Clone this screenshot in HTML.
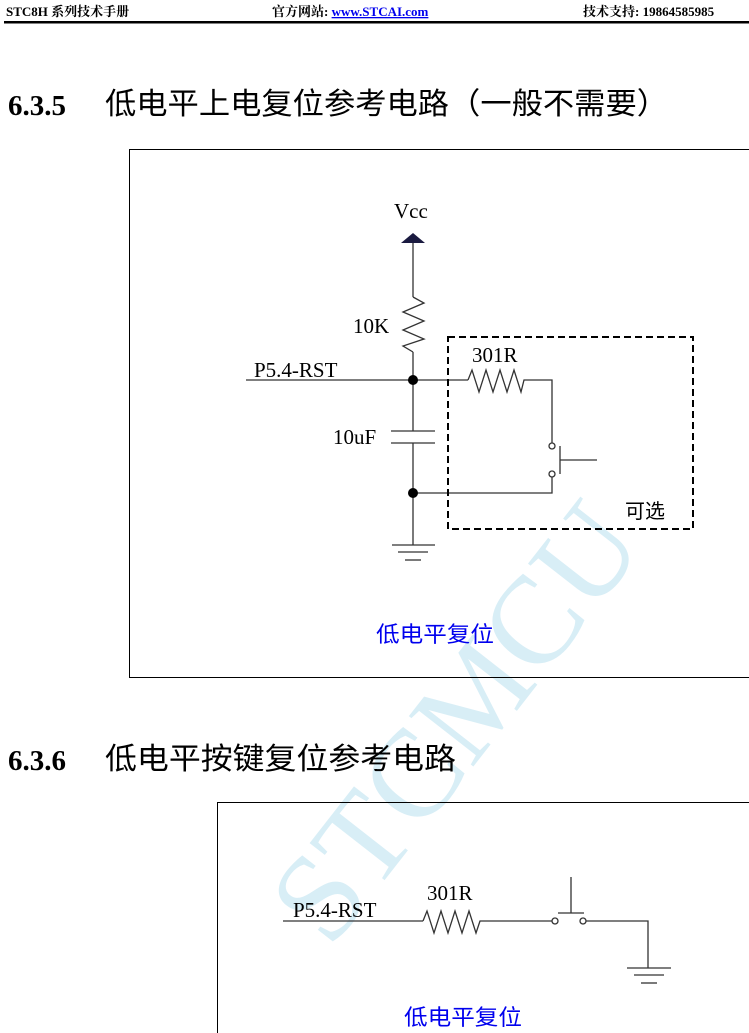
<!DOCTYPE html>
<html><head><meta charset="utf-8"><style>
html,body{margin:0;padding:0;background:#fff;}
svg{display:block;}
.s{font-family:"Liberation Serif","Noto Serif CJK SC",serif;}
.h{font-family:"Liberation Sans","Noto Sans CJK SC",sans-serif;}
</style></head><body>
<svg width="749" height="1033" viewBox="0 0 749 1033" xmlns="http://www.w3.org/2000/svg">
<text x="6" y="16" class="s" font-size="13" font-weight="bold">STC8H 系列技术手册</text>
<text x="272" y="16" class="s" font-size="13" font-weight="bold">官方网站: <tspan fill="#0000ee" text-decoration="underline">www.STCAI.com</tspan></text>
<text x="583" y="16" class="s" font-size="13" font-weight="bold">技术支持: 19864585985</text>
<rect x="4" y="21" width="745" height="2.5" fill="#000"/>
<text transform="translate(330,950) rotate(-52)" class="s" font-size="125" fill="#cfeaf4" opacity="0.8">STCMCU</text>
<text x="8" y="115" class="s" font-size="29" font-weight="bold">6.3.5</text>
<text x="105" y="114" class="h" font-size="30" textLength="563" lengthAdjust="spacingAndGlyphs">低电平上电复位参考电路（一般不需要）</text>
<rect x="129.5" y="149.5" width="625" height="528" fill="none" stroke="#000" stroke-width="1"/>
<g stroke="#333" stroke-width="1.3" fill="none">
<line x1="413" y1="243" x2="413" y2="297"/>
<polyline points="413,297 424,303 403,312 424,321 403,330 424,339 403,346 413,352"/>
<line x1="413" y1="352" x2="413" y2="431"/>
<line x1="391" y1="431" x2="435" y2="431"/>
<line x1="391" y1="443" x2="435" y2="443"/>
<line x1="413" y1="443" x2="413" y2="545"/>
<line x1="392" y1="545" x2="435" y2="545"/>
<line x1="398" y1="552" x2="428" y2="552"/>
<line x1="405" y1="560" x2="421" y2="560"/>
<line x1="246" y1="380" x2="468" y2="380"/>
<polyline points="468,380 472,370 479,392 486,370 493,392 500,370 507,392 514,370 521,392 524,380 552,380 552,443"/>
<circle cx="552" cy="446" r="3" fill="#fff"/>
<circle cx="552" cy="474" r="3" fill="#fff"/>
<polyline points="552,477 552,493 413,493"/>
<line x1="560" y1="446" x2="560" y2="474"/>
<line x1="560" y1="460" x2="597" y2="460"/>
</g>
<polygon points="413,233 401,243 425,243" fill="#1a1a40"/>
<circle cx="413" cy="380" r="5" fill="#000"/>
<circle cx="413" cy="493" r="5" fill="#000"/>
<rect x="448" y="337" width="245" height="192" fill="none" stroke="#000" stroke-width="2" stroke-dasharray="7,4"/>
<g class="s" font-size="21">
<text x="394" y="218">Vcc</text>
<text x="353" y="333">10K</text>
<text x="333" y="444">10uF</text>
<text x="472" y="362">301R</text>
<text x="254" y="377">P5.4-RST</text>
</g>
<text x="625" y="518" class="h" font-size="20">可选</text>
<text x="376" y="642" class="h" font-size="22" fill="#0000ee" textLength="118" lengthAdjust="spacingAndGlyphs">低电平复位</text>
<text x="8" y="770" class="s" font-size="29" font-weight="bold">6.3.6</text>
<text x="105" y="769" class="h" font-size="30" textLength="351" lengthAdjust="spacingAndGlyphs">低电平按键复位参考电路</text>
<rect x="217.5" y="802.5" width="540" height="240" fill="none" stroke="#000" stroke-width="1"/>
<g stroke="#333" stroke-width="1.3" fill="none">
<line x1="283" y1="921" x2="423" y2="921"/>
<polyline points="423,921 427,911 434,933 441,911 448,933 455,911 462,933 469,911 476,933 480,921 552,921"/>
<circle cx="555" cy="921" r="3" fill="#fff"/>
<circle cx="583" cy="921" r="3" fill="#fff"/>
<polyline points="586,921 648,921 648,968"/>
<line x1="558" y1="913" x2="584" y2="913"/>
<line x1="571" y1="877" x2="571" y2="913"/>
<line x1="627" y1="968" x2="671" y2="968"/>
<line x1="634" y1="975" x2="664" y2="975"/>
<line x1="641" y1="983" x2="657" y2="983"/>
</g>
<g class="s" font-size="21">
<text x="427" y="900">301R</text>
<text x="293" y="917">P5.4-RST</text>
</g>
<text x="404" y="1025" class="h" font-size="22" fill="#0000ee" textLength="118" lengthAdjust="spacingAndGlyphs">低电平复位</text>
</svg>
</body></html>
